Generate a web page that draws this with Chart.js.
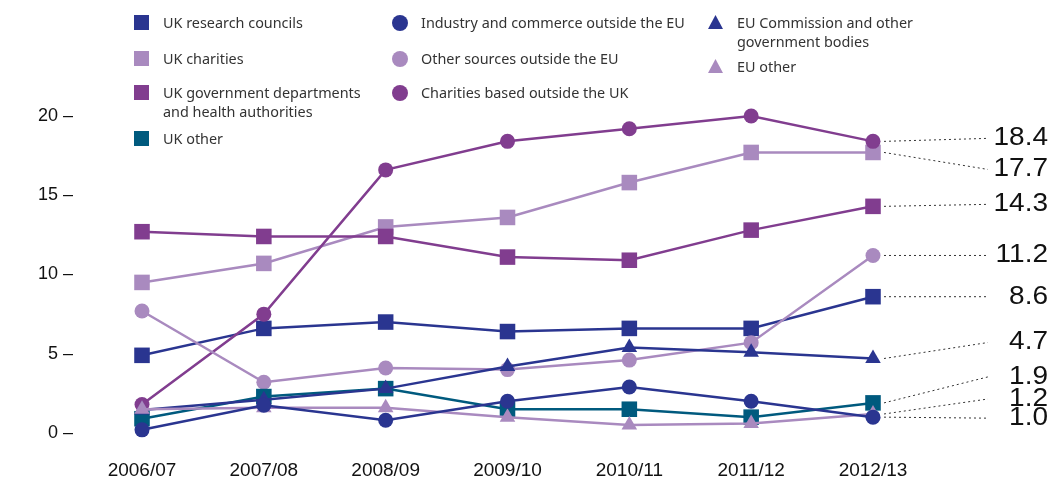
<!DOCTYPE html>
<html>
<head>
<meta charset="utf-8">
<script src="https://cdn.jsdelivr.net/npm/chart.js@4"></script>
<style>
  body { margin: 0; background: #fff; }
  .wrap { position: relative; width: 1055px; height: 477px; }
  .legend { position: absolute; left: 0; top: 0; font-family: "Noto Sans", "Open Sans", sans-serif; font-size: 14.4px; color: #333; }
  .item { position: absolute; line-height: 19px; white-space: nowrap; }
  .mk { position: absolute; }
  .sq { width: 15px; height: 15px; }
  .ci { width: 16px; height: 16px; border-radius: 50%; }
  .tr { width: 15px; height: 14px; clip-path: polygon(50% 0, 100% 100%, 0 100%); }
</style>
</head>
<body>
<div class="wrap">
  <canvas id="chart" width="1055" height="477"></canvas>
  <div class="legend" id="legend"></div>
</div>
<script>
const years = ['2006/07', '2007/08', '2008/09', '2009/10', '2010/11', '2011/12', '2012/13'];

const ukResearchCouncils = [4.9, 6.6, 7.0, 6.4, 6.6, 6.6, 8.6];
const ukCharities = [9.5, 10.7, 13.0, 13.6, 15.8, 17.7, 17.7];
const ukGovernment = [12.7, 12.4, 12.4, 11.1, 10.9, 12.8, 14.3];
const ukOther = [0.9, 2.3, 2.8, 1.5, 1.5, 1.0, 1.9];
const industryOutsideEU = [0.2, 1.75, 0.8, 2.0, 2.9, 2.0, 1.0];
const otherOutsideEU = [7.7, 3.2, 4.1, 4.0, 4.6, 5.7, 11.2];
const charitiesOutsideUK = [1.8, 7.5, 16.6, 18.4, 19.2, 20.0, 18.4];
const euCommission = [1.45, 2.1, 2.8, 4.2, 5.4, 5.1, 4.7];
const euOther = [1.5, 1.6, 1.6, 1.0, 0.5, 0.6, 1.2];

const yTicks = [0, 5, 10, 15, 20];

const navy = '#2a3590';
const lilac = '#a98abf';
const purple = '#813d8f';
const teal = '#005a7e';

// legend layout: [label lines, colour, marker, left of marker, top of first line]
const legendItems = [
    [['UK research councils'], navy, 'sq', 134, 13],
    [['UK charities'], lilac, 'sq', 134, 49],
    [['UK government departments', 'and health authorities'], purple, 'sq', 134, 83],
    [['UK other'], teal, 'sq', 134, 129],
    [['Industry and commerce outside the EU'], navy, 'ci', 392, 13],
    [['Other sources outside the EU'], lilac, 'ci', 392, 49],
    [['Charities based outside the UK'], purple, 'ci', 392, 83],
    [['EU Commission and other', 'government bodies'], navy, 'tr', 708, 13],
    [['EU other'], lilac, 'tr', 708, 57]
];

const legend = document.getElementById('legend');
legendItems.forEach(it => {
    const mk = document.createElement('div');
    mk.className = 'mk ' + it[2];
    mk.style.background = it[1];
    mk.style.left = it[3] + 'px';
    mk.style.top = (it[4] + 2) + 'px';
    legend.appendChild(mk);
    const txt = document.createElement('div');
    txt.className = 'item';
    txt.style.left = (it[3] + 29) + 'px';
    txt.style.top = it[4] + 'px';
    txt.innerHTML = it[0].join('<br>');
    legend.appendChild(txt);
});

function series(data, color, shape, radius, order) {
    return {
        data: data,
        borderColor: color,
        backgroundColor: color,
        pointBackgroundColor: color,
        pointBorderColor: color,
        pointBorderWidth: 0,
        pointStyle: shape,
        pointRadius: radius,
        pointHoverRadius: radius,
        borderWidth: 2.5,
        tension: 0,
        clip: false,
        order: order
    };
}

// label offsets in px from the last point (to keep labels apart)
const labelShift = [-3, 17, -2, 0, 0, -16, -26, -15, 1];

const endLabels = {
    id: 'endLabels',
    afterDatasetsDraw(chart) {
        const ctx = chart.ctx;
        ctx.save();
        ctx.lineWidth = 1;
        ctx.strokeStyle = '#333';
        ctx.fillStyle = '#111';
        chart.data.datasets.forEach((ds, i) => {
            const meta = chart.getDatasetMeta(i);
            const pt = meta.data[meta.data.length - 1];
            const ly = pt.y + labelShift[i];
            ctx.beginPath();
            ctx.setLineDash([2, 3]);
            ctx.moveTo(pt.x + 11, pt.y);
            ctx.lineTo(988, ly);
            ctx.stroke();
            ctx.save();
            ctx.translate(1048, ly);
            ctx.scale(1.12, 1);
            ctx.font = '25px "Liberation Sans", Arial, sans-serif';
            ctx.textAlign = 'right';
            ctx.textBaseline = 'middle';
            ctx.fillText(ds.data[ds.data.length - 1].toFixed(1), 0, 0);
            ctx.restore();
        });
        ctx.restore();
    }
};

new Chart(document.getElementById('chart'), {
    type: 'line',
    data: {
        labels: years,
        datasets: [
            series(charitiesOutsideUK, purple, 'circle', 7.5, 5),
            series(ukCharities, lilac, 'rect', 11, 7),
            series(ukGovernment, purple, 'rect', 11, 6),
            series(otherOutsideEU, lilac, 'circle', 7.5, 4),
            series(ukResearchCouncils, navy, 'rect', 11, 8),
            series(euCommission, navy, 'triangle', 9, 2),
            series(ukOther, teal, 'rect', 11, 3),
            series(euOther, lilac, 'triangle', 9, 1),
            series(industryOutsideEU, navy, 'circle', 7.5, 0)
        ]
    },
    options: {
        responsive: false,
        animation: false,
        layout: { padding: { top: 116, right: 182, left: 0, bottom: 0 } },
        plugins: {
            legend: { display: false },
            tooltip: { enabled: false }
        },
        scales: {
            x: {
                offset: false,
                grid: { display: false, drawTicks: false },
                border: { display: false },
                ticks: {
                    color: '#111',
                    padding: 26,
                    maxRotation: 0,
                    font: { family: '"Liberation Sans", Arial, sans-serif', size: 19 }
                },
                afterFit(scale) { scale.height = 44; }
            },
            y: {
                min: 0,
                max: 20,
                grid: {
                    display: true,
                    drawOnChartArea: false,
                    drawTicks: true,
                    tickLength: 66,
                    tickColor: 'rgba(0,0,0,0)'
                },
                border: { display: false },
                afterBuildTicks(scale) { scale.ticks = yTicks.map(v => ({ value: v })); },
                ticks: {
                    color: '#111',
                    padding: 3,
                    font: { family: '"Liberation Sans", Arial, sans-serif', size: 18 },
                    callback: v => v + ' \u2013'
                },
                afterFit(scale) { scale.width = 142; }
            }
        }
    },
    plugins: [endLabels]
});
</script>
</body>
</html>
